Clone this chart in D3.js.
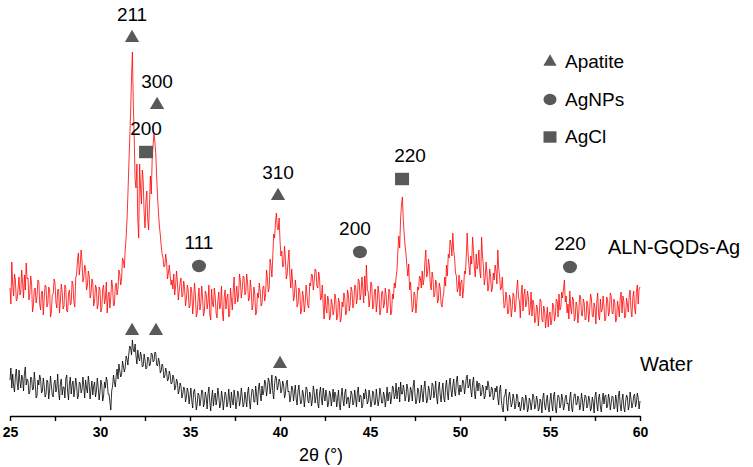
<!DOCTYPE html>
<html>
<head>
<meta charset="utf-8">
<script src="https://cdn.jsdelivr.net/npm/d3@7"></script>
<style>
  body { margin: 0; background: #fff; }
  svg { display: block; font-family: "Liberation Sans", Arial, sans-serif; }
</style>
</head>
<body>
<svg id="chart" width="753" height="467"></svg>
<script>
// 2θ grid of both patterns: 25° to 60° in 0.05° steps
const angleStart = 25;
const angleStep = 0.05;

// intensities (a.u.), one row per degree
const alnGqdsAg = [
  128, 112, 154, 131, 120, 142, 136, 115, 117, 128, 139, 121, 124, 146, 133, 118, 141, 126, 153, 137,
  138, 116, 122, 140, 132, 104, 110, 127, 128, 113, 119, 136, 135, 112, 106, 124, 125, 101, 118, 131,
  130, 109, 112, 129, 126, 99, 104, 121, 122, 137, 133, 114, 108, 126, 127, 103, 115, 132, 124, 107,
  110, 131, 128, 105, 104, 122, 126, 111, 113, 135, 131, 114, 109, 138, 142, 156, 163, 141, 150, 166,
  155, 134, 138, 151, 147, 126, 130, 145, 140, 118, 122, 137, 133, 110, 115, 131, 128, 107, 112, 129,
  126, 104, 108, 127, 131, 112, 117, 134, 103, 120, 124, 108, 119, 136, 129, 110, 111, 130, 133, 121,
  128, 146, 142, 131, 137, 158, 155, 148, 166, 178, 196, 221, 250, 276, 302, 338, 364, 312, 280, 236,
  228, 252, 196, 178, 252, 229, 212, 246, 236, 204, 188, 214, 225, 197, 186, 212, 240, 222, 258, 271,
  283, 274, 262, 239, 218, 203, 190, 181, 170, 162, 158, 149, 150, 162, 154, 137, 143, 151, 140, 131,
  136, 127, 142, 121, 130, 145, 134, 116, 125, 133, 138, 119, 120, 135, 128, 110, 117, 131, 126, 108,
  110, 129, 124, 102, 115, 133, 121, 99, 103, 117, 128, 106, 112, 130, 118, 100, 105, 125, 122, 107,
  114, 131, 101, 96, 127, 112, 109, 128, 120, 103, 98, 116, 124, 107, 111, 130, 104, 95, 119, 126,
  107, 118, 122, 99, 100, 128, 117, 106, 125, 139, 112, 120, 130, 114, 121, 142, 135, 118, 126, 140,
  139, 121, 124, 142, 133, 115, 118, 136, 127, 106, 111, 129, 122, 101, 104, 123, 118, 133, 125, 110,
  112, 129, 130, 115, 121, 146, 138, 124, 128, 157, 150, 139, 160, 182, 178, 194, 203, 188, 186, 198,
  176, 160, 165, 149, 150, 170, 158, 137, 142, 155, 166, 140, 128, 147, 134, 115, 120, 136, 127, 109,
  112, 128, 124, 102, 106, 125, 119, 104, 113, 131, 121, 110, 108, 133, 130, 142, 141, 126, 135, 147,
  145, 130, 128, 144, 137, 116, 118, 131, 110, 97, 122, 108, 103, 120, 115, 96, 99, 117, 112, 101,
  106, 122, 117, 96, 100, 118, 113, 94, 97, 114, 109, 123, 118, 101, 104, 126, 121, 105, 112, 129,
  125, 108, 113, 131, 130, 112, 118, 137, 135, 116, 122, 139, 128, 113, 140, 120, 151, 127, 124, 109,
  118, 134, 131, 107, 109, 126, 127, 104, 114, 130, 122, 101, 106, 124, 125, 108, 112, 128, 120, 103,
  110, 127, 124, 101, 104, 122, 117, 133, 128, 139, 146, 165, 180, 168, 198, 211, 219, 196, 182, 170,
  162, 150, 140, 152, 126, 134, 119, 104, 108, 124, 121, 103, 113, 129, 126, 140, 138, 128, 145, 131,
  137, 154, 166, 139, 143, 157, 150, 131, 126, 144, 138, 119, 121, 136, 132, 113, 116, 133, 128, 112,
  109, 118, 124, 139, 130, 151, 140, 162, 158, 176, 172, 160, 183, 166, 158, 143, 140, 124, 128, 141,
  120, 134, 136, 118, 127, 145, 142, 161, 183, 162, 150, 141, 160, 152, 179, 164, 148, 139, 162, 147,
  152, 166, 145, 138, 179, 160, 150, 131, 138, 154, 142, 125, 130, 147, 140, 124, 128, 143, 136, 151,
  145, 132, 166, 148, 140, 126, 128, 139, 122, 108, 110, 124, 118, 102, 104, 121, 116, 99, 108, 123,
  120, 104, 110, 127, 136, 119, 115, 98, 122, 131, 105, 121, 127, 109, 113, 125, 118, 101, 108, 124,
  100, 116, 112, 93, 96, 111, 108, 90, 102, 117, 115, 97, 94, 110, 106, 88, 98, 109, 89, 101,
  104, 91, 96, 113, 110, 95, 101, 117, 115, 99, 122, 106, 108, 124, 118, 127, 136, 114, 120, 103,
  112, 97, 125, 108, 102, 119, 116, 95, 98, 114, 110, 93, 104, 121, 119, 101, 100, 117, 113, 96,
  97, 115, 111, 94, 105, 122, 118, 100, 99, 113, 108, 92, 114, 123, 101, 96, 117, 104, 106, 120,
  110, 95, 98, 119, 116, 100, 104, 123, 120, 103, 102, 117, 113, 94, 97, 115, 109, 99, 118, 124,
  103, 120, 115, 98, 100, 118, 112, 104, 121, 126, 106, 99, 118, 125, 108, 102, 124, 131, 112, 127,
  129
];

const water = [
  36, 48, 28, 42, 30, 24, 40, 47, 33, 26, 46, 35, 28, 41, 38, 25, 42, 49, 31, 37,
  35, 22, 24, 39, 38, 26, 27, 44, 33, 18, 20, 36, 31, 41, 37, 23, 25, 38, 30, 19,
  22, 36, 34, 17, 26, 40, 30, 21, 19, 33, 36, 24, 28, 42, 24, 16, 33, 37, 21, 29,
  29, 18, 37, 41, 25, 16, 32, 39, 22, 31, 35, 19, 27, 38, 31, 17, 20, 34, 33, 23,
  26, 39, 30, 18, 36, 28, 23, 40, 32, 17, 27, 35, 21, 30, 34, 19, 25, 38, 29, 16,
  24, 36, 31, 15, 20, 34, 28, 39, 35, 22, 22, 14, 6, 25, 30, 41, 34, 29, 40, 47,
  37, 52, 45, 39, 42, 55, 50, 44, 48, 60, 57, 51, 62, 70, 68, 61, 76, 66, 64, 72,
  60, 52, 66, 58, 55, 64, 60, 49, 50, 62, 56, 47, 48, 59, 58, 50, 52, 63, 62, 54,
  55, 64, 63, 51, 50, 58, 54, 43, 45, 52, 49, 38, 40, 48, 44, 35, 37, 45, 41, 32,
  33, 41, 38, 26, 29, 37, 34, 22, 26, 33, 30, 18, 22, 29, 27, 14, 19, 28, 24, 12,
  20, 28, 15, 8, 24, 27, 18, 6, 12, 23, 21, 10, 16, 26, 25, 9, 13, 24, 19, 7,
  22, 29, 14, 5, 18, 26, 10, 19, 23, 11, 17, 28, 20, 8, 12, 25, 19, 6, 15, 24,
  21, 9, 13, 27, 17, 8, 24, 15, 11, 26, 19, 7, 14, 25, 22, 10, 16, 28, 20, 9,
  12, 24, 18, 9, 23, 29, 15, 7, 19, 27, 26, 14, 14, 30, 21, 11, 27, 33, 22, 15,
  30, 21, 25, 36, 33, 20, 27, 38, 35, 22, 29, 41, 24, 17, 32, 40, 38, 26, 30, 37,
  34, 23, 26, 35, 31, 18, 22, 33, 36, 24, 25, 14, 19, 30, 28, 15, 23, 31, 17, 11,
  25, 31, 20, 12, 14, 26, 22, 9, 18, 29, 27, 15, 13, 24, 21, 10, 16, 30, 24, 13,
  19, 27, 12, 8, 23, 29, 17, 11, 28, 20, 15, 26, 20, 9, 13, 25, 22, 10, 18, 27,
  14, 24, 21, 9, 17, 26, 11, 6, 20, 28, 16, 10, 23, 27, 12, 18, 19, 8, 15, 25,
  22, 11, 13, 26, 18, 9, 24, 29, 14, 21, 20, 8, 11, 23, 17, 27, 21, 12, 15, 26,
  19, 9, 14, 25, 23, 11, 12, 27, 18, 10, 16, 28, 22, 13, 13, 24, 20, 9, 17, 29,
  15, 23, 24, 12, 19, 30, 28, 17, 21, 33, 17, 25, 29, 14, 34, 22, 22, 31, 26, 15,
  20, 32, 27, 14, 18, 29, 25, 15, 30, 36, 21, 12, 16, 28, 26, 13, 19, 31, 23, 14,
  28, 35, 22, 13, 17, 30, 26, 16, 20, 33, 31, 18, 24, 35, 19, 12, 27, 34, 21, 14,
  25, 33, 18, 14, 29, 36, 23, 16, 32, 38, 26, 19, 30, 37, 24, 20, 35, 40, 28, 21,
  31, 24, 27, 36, 34, 22, 29, 38, 41, 28, 30, 37, 26, 19, 33, 39, 24, 17, 29, 35,
  25, 33, 32, 20, 22, 31, 28, 17, 20, 30, 26, 35, 30, 19, 21, 29, 27, 16, 19, 28,
  24, 30, 18, 11, 26, 31, 15, 8, 4, 19, 21, 27, 12, 5, 19, 24, 16, 9, 13, 22,
  17, 7, 11, 22, 20, 9, 14, 5, 9, 19, 18, 6, 12, 21, 16, 4, 8, 18, 15, 6,
  13, 22, 19, 7, 10, 20, 16, 5, 7, 17, 14, 3, 18, 23, 11, 6, 15, 21, 9, 4,
  16, 23, 12, 5, 20, 24, 8, 3, 14, 21, 19, 8, 11, 22, 17, 6, 10, 19, 21, 12,
  13, 5, 18, 24, 9, 4, 15, 22, 22, 11, 12, 20, 17, 6, 10, 23, 16, 5, 14, 21,
  19, 8, 11, 20, 16, 5, 8, 19, 14, 3, 20, 24, 12, 5, 18, 22, 9, 4, 15, 23,
  12, 20, 21, 8, 10, 22, 17, 6, 13, 20, 19, 7, 8, 21, 15, 4, 20, 25, 11, 5,
  16, 22, 9, 4, 14, 21, 19, 6, 10, 24, 17, 8, 12, 20, 22, 9, 13, 23, 18, 7,
  15
];

const seriesNames = ["ALN-GQDs-Ag", "Water"];
const phases = ["Apatite", "AgNPs", "AgCl"];
const xTicks = [25, 27.5, 30, 32.5, 35, 37.5, 40, 42.5, 45, 47.5, 50, 52.5, 55, 57.5, 60];

// indexed reflections: phase, (hkl), 2θ, marker level (a.u.)
const alnPeaks = [
  { phase: "Apatite", hkl: "211", angle: 31.78, level: 378 },
  { phase: "Apatite", hkl: "300", angle: 33.17, level: 311 },
  { phase: "AgCl", hkl: "200", angle: 32.56, level: 264 },
  { phase: "AgNPs", hkl: "111", angle: 35.5, level: 150 },
  { phase: "Apatite", hkl: "310", angle: 39.89, level: 220 },
  { phase: "AgNPs", hkl: "200", angle: 44.44, level: 164 },
  { phase: "AgCl", hkl: "220", angle: 46.78, level: 237 },
  { phase: "AgNPs", hkl: "220", angle: 56.11, level: 149 }
];
const waterPeaks = [
  { phase: "Apatite", angle: 31.78, level: 85 },
  { phase: "Apatite", angle: 33.11, level: 85 },
  { phase: "Apatite", angle: 40.0, level: 52 }
];

const svg = d3.select("#chart");
const markColor = "#595959";

const x = d3.scaleLinear().domain([25, 60]).range([10, 640]);
const y = d3.scaleLinear().domain([0, 400]).range([416, 16]);

const line = d3
  .line()
  .x((d, i) => x(angleStart + i * angleStep))
  .y((d) => y(d));

svg.append("path")
  .datum(alnGqdsAg)
  .attr("fill", "none")
  .attr("stroke", "#ff0000")
  .attr("stroke-width", 0.8)
  .attr("d", line);

svg.append("path")
  .datum(water)
  .attr("fill", "none")
  .attr("stroke", "#000")
  .attr("stroke-width", 0.8)
  .attr("d", line);

// X axis
const xAxis = svg.append("g")
  .attr("transform", `translate(0, ${y(0)})`)
  .call(
    d3.axisBottom(x)
      .tickValues(xTicks)
      .tickSize(5)
      .tickSizeOuter(0)
      .tickPadding(6)
      .tickFormat((d) => (d % 5 === 0 ? d : ""))
  );
xAxis.select(".domain").attr("stroke-width", 1.6);
xAxis.selectAll(".tick line").attr("stroke-width", 1.4);
xAxis.selectAll("text")
  .attr("font-family", "Liberation Sans, Arial, sans-serif")
  .attr("font-size", 14)
  .attr("font-weight", "bold")
  .attr("fill", "#000");

svg.append("text")
  .attr("x", x(42.5) - 4)
  .attr("y", 461)
  .attr("text-anchor", "middle")
  .attr("font-size", 18)
  .text("2θ (°)");

function drawMarker(g, phase, cx, cy, s) {
  if (phase === "Apatite") {
    g.append("path")
      .attr("d", d3.symbol(d3.symbolTriangle, s * s * 0.45)())
      .attr("transform", `translate(${cx}, ${cy})`)
      .attr("fill", markColor);
  } else if (phase === "AgNPs") {
    g.append("ellipse")
      .attr("cx", cx)
      .attr("cy", cy)
      .attr("rx", s / 2)
      .attr("ry", s / 2 - 0.8)
      .attr("fill", markColor);
  } else {
    g.append("rect")
      .attr("x", cx - s / 2)
      .attr("y", cy - s / 2 + 0.8)
      .attr("width", s)
      .attr("height", s - 1.6)
      .attr("fill", markColor);
  }
}

const marks = svg.append("g");
const labelNudge = { "AgNPs200": -5, "AgCl220": 8 };
alnPeaks.forEach((p) => {
  drawMarker(marks, p.phase, x(p.angle), y(p.level), 14);
  marks.append("text")
    .attr("x", x(p.angle) + (labelNudge[p.phase + p.hkl] || 0))
    .attr("y", y(p.level) - 17)
    .attr("text-anchor", "middle")
    .attr("font-size", 19)
    .attr("fill", "#000")
    .text(p.hkl);
});
waterPeaks.forEach((p) => {
  drawMarker(marks, p.phase, x(p.angle), y(p.level), 14);
});

// legend
const legend = svg.append("g").attr("transform", "translate(550, 62)");
phases.forEach((ph, i) => {
  drawMarker(legend, ph, 0, i * 37.5, 13);
  legend.append("text")
    .attr("x", 15)
    .attr("y", i * 37.5 + 6)
    .attr("font-size", 19)
    .attr("fill", "#000")
    .text(ph);
});

// series names
svg.append("text")
  .attr("x", 608)
  .attr("y", 254)
  .attr("font-size", 20)
  .attr("fill", "#000")
  .text(seriesNames[0]);
svg.append("text")
  .attr("x", 640)
  .attr("y", 371)
  .attr("font-size", 20)
  .attr("fill", "#000")
  .text(seriesNames[1]);
</script>
</body>
</html>
